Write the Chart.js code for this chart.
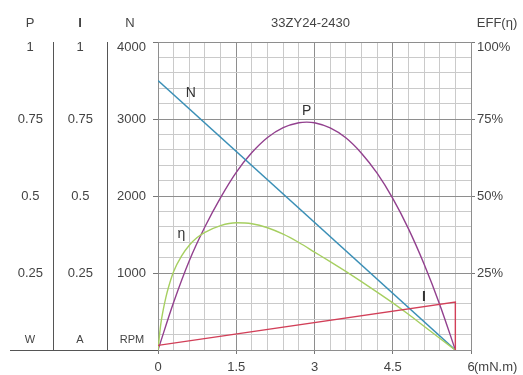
<!DOCTYPE html>
<html><head><meta charset="utf-8">
<script src="https://cdn.jsdelivr.net/npm/chart.js@4"></script>
<style>html,body{margin:0;padding:0;background:#fff;}canvas{display:block}</style>
</head><body>
<canvas id="c" width="523" height="375"></canvas>
<script>
// ---- data ----
const torqueLabels = [0, 1.5, 3, 4.5, 6];          // x tick labels (mN.m)
const pTickLabels = [0.25, 0.5, 0.75, 1];           // W
const iTickLabels = [0.25, 0.5, 0.75, 1];           // A
const nTickLabels = [1000, 2000, 3000, 4000];       // RPM
const effTickLabels = [25, 50, 75, 100];            // %

const speedX = [0, 5.7];
const speedN = [3500, 0];

const currentX = [0, 5.7, 5.7];
const currentI = [0.015, 0.156, 0];

const powerX = [0, 0.3, 0.6, 0.9, 1.2, 1.5, 1.8, 2.1, 2.4, 2.7, 2.85, 3.0, 3.3, 3.6, 3.9, 4.2, 4.5, 4.8, 5.1, 5.4, 5.7];
const powerP = [0, 0.155, 0.29, 0.40, 0.495, 0.577, 0.641, 0.69, 0.722, 0.738, 0.74, 0.738, 0.721, 0.689, 0.639, 0.574, 0.492, 0.394, 0.279, 0.148, 0];

const effX = [0, 0.05, 0.1, 0.15, 0.2, 0.3, 0.45, 0.6, 0.75, 0.9, 1.2, 1.5, 1.8, 2.1, 2.4, 2.7, 3.0, 3.3, 3.6, 3.9, 4.2, 4.5, 4.8, 5.1, 5.4, 5.7];
const effE = [0, 8, 13, 17, 20.3, 25.5, 30.5, 34, 36.5, 38.2, 40.4, 41.3, 41, 39.7, 37.6, 34.9, 31.8, 28.7, 25.5, 22.2, 18.8, 15.3, 11.6, 7.7, 3.8, 0];

// ---- styling ----
const FONT = '"Liberation Sans", Arial, sans-serif';
const TXT = '#444';
const gridMinor = '#cacaca';
const gridMajor = '#8e8e8e';
const colN = '#3a8fb6', colP = '#92408e', colE = '#a6cf60', colI = '#d23f58';

Chart.defaults.font.family = FONT;
Chart.defaults.font.size = 13;
Chart.defaults.color = TXT;

const pts = (xs, ys) => xs.map((x, i) => ({x, y: ys[i]}));
const near = (v, arr) => arr.some(a => Math.abs(a - v) < 1e-6);
const isMajorX = v => near(v, torqueLabels);
const isMajorN = v => near(v, [0].concat(nTickLabels));
const lastOf = arr => arr[arr.length - 1];

// curve name labels (anchors in data units)
const curveNames = [
  {text: 'N', axis: 'yN', x: 0.63, y: 3340, bold: false},
  {text: 'P', axis: 'yP', x: 2.85, y: 0.775, bold: false},
  {text: 'η', axis: 'yE', x: 0.45, y: 37.5, bold: false},
  {text: 'I', axis: 'yI', x: 5.1, y: 0.17, bold: true}
];

const decor = {
  id: 'decor',
  afterDraw(chart) {
    const {ctx, chartArea: ca, scales: s} = chart;
    ctx.save();
    ctx.fillStyle = TXT;
    ctx.textAlign = 'center';
    ctx.textBaseline = 'middle';
    const cP = s.yP.right - 23, cI = s.yI.right - 27, cN = s.yN.right - 28;
    const hy = 23;
    ctx.font = '13px ' + FONT;
    ctx.fillText('P', cP, hy);
    ctx.fillText('N', cN, hy);
    ctx.font = 'bold 13px ' + FONT;
    ctx.fillText('I', cI, hy);
    ctx.font = '13px ' + FONT;
    ctx.fillText('33ZY24-2430', (ca.left + ca.right) / 2 - 4, hy);
    ctx.fillText('EFF(η)', (s.yE.left + s.yE.right) / 2, hy);
    // top-row tick labels sit just below the top border
    const ty = ca.top + 5;
    ctx.fillText(String(lastOf(pTickLabels)), cP, ty);
    ctx.fillText(String(lastOf(iTickLabels)), cI, ty);
    ctx.textAlign = 'right';
    ctx.fillText(String(lastOf(nTickLabels)), s.yN.right - 12, ty);
    ctx.textAlign = 'left';
    ctx.fillText(lastOf(effTickLabels) + '%', s.yE.left + 6, ty);
    // units
    ctx.textAlign = 'center';
    ctx.font = '11px ' + FONT;
    const uy = ca.bottom - 10;
    ctx.fillText('W', cP, uy);
    ctx.fillText('A', cI, uy);
    ctx.fillText('RPM', cN + 2, uy);
    // x unit
    ctx.font = '13px ' + FONT;
    ctx.textAlign = 'left';
    ctx.fillText('(mN.m)', s.x.getPixelForValue(6) + 3, ca.bottom + 17);
    // bottom line of the left panel
    ctx.strokeStyle = '#555';
    ctx.lineWidth = 1;
    ctx.beginPath();
    ctx.moveTo(10, Math.round(ca.bottom) + 0.5);
    ctx.lineTo(ca.left, Math.round(ca.bottom) + 0.5);
    ctx.stroke();
    // curve names
    ctx.textAlign = 'center';
    ctx.fillStyle = '#333';
    curveNames.forEach(c => {
      ctx.font = (c.bold ? 'bold ' : '') + '14px ' + FONT;
      ctx.fillText(c.text, s.x.getPixelForValue(c.x), s[c.axis].getPixelForValue(c.y));
    });
    ctx.restore();
  }
};

new Chart(document.getElementById('c'), {
  type: 'line',
  data: {
    datasets: [
      {label: 'I', data: pts(currentX, currentI), yAxisID: 'yI', borderColor: colI, borderWidth: 1.4, pointRadius: 0, tension: 0},
      {label: 'η', data: pts(effX, effE), yAxisID: 'yE', borderColor: colE, borderWidth: 1.4, pointRadius: 0, cubicInterpolationMode: 'monotone'},
      {label: 'N', data: pts(speedX, speedN), yAxisID: 'yN', borderColor: colN, borderWidth: 1.5, pointRadius: 0, tension: 0},
      {label: 'P', data: pts(powerX, powerP), yAxisID: 'yP', borderColor: colP, borderWidth: 1.4, pointRadius: 0, cubicInterpolationMode: 'monotone'}
    ]
  },
  options: {
    responsive: false,
    animation: false,
    devicePixelRatio: 1,
    layout: {padding: {top: 42, left: 0, right: 0, bottom: 0}},
    plugins: {legend: {display: false}, tooltip: {enabled: false}, title: {display: false}},
    scales: {
      x: {
        type: 'linear', position: 'bottom', min: 0, max: 6,
        afterFit(sc) { sc.height = 25; },
        ticks: {
          stepSize: 0.3, autoSkip: false, maxRotation: 0, maxTicksLimit: 100, padding: 6,
          callback: v => isMajorX(v) ? String(torqueLabels.find(a => Math.abs(a - v) < 1e-6)) : ''
        },
        grid: {
          color: c => isMajorX(c.tick.value) ? gridMajor : gridMinor,
          tickLength: 4,
          tickColor: c => isMajorX(c.tick.value) ? '#777' : 'rgba(0,0,0,0)'
        },
        border: {color: gridMajor}
      },
      yN: {
        type: 'linear', position: 'left', weight: 0, min: 0, max: 4000,
        afterFit(sc) { sc.width = 51; },
        ticks: {
          stepSize: 200, autoSkip: false, maxTicksLimit: 100, padding: 7, crossAlign: 'near',
          callback: v => near(v, nTickLabels) && v !== lastOf(nTickLabels) ? String(v) : ''
        },
        grid: {
          color: c => isMajorN(c.tick.value) || c.tick.value === 4000 ? gridMajor : gridMinor,
          tickLength: 5,
          tickColor: c => near(c.tick.value, nTickLabels) ? '#777' : 'rgba(0,0,0,0)'
        },
        border: {color: gridMajor}
      },
      yI: {
        type: 'linear', position: 'left', weight: 1, min: 0, max: 1,
        afterFit(sc) { sc.width = 54; },
        ticks: {
          stepSize: 0.25, autoSkip: false, padding: 14, crossAlign: 'center',
          callback: v => near(v, iTickLabels) && v !== lastOf(iTickLabels) ? String(v) : ''
        },
        grid: {display: false, drawTicks: false, drawOnChartArea: false},
        border: {color: '#555'}
      },
      yP: {
        type: 'linear', position: 'left', weight: 2, min: 0, max: 1,
        afterFit(sc) { sc.width = 53; },
        ticks: {
          stepSize: 0.25, autoSkip: false, padding: 10, crossAlign: 'center',
          callback: v => near(v, pTickLabels) && v !== lastOf(pTickLabels) ? String(v) : ''
        },
        grid: {display: false, drawTicks: false, drawOnChartArea: false},
        border: {color: '#555'}
      },
      yE: {
        type: 'linear', position: 'right', min: 0, max: 100,
        afterFit(sc) { sc.width = 52; },
        ticks: {
          stepSize: 25, autoSkip: false, padding: 2,
          callback: v => near(v, effTickLabels) && v !== lastOf(effTickLabels) ? v + '%' : ''
        },
        grid: {drawOnChartArea: false, tickLength: 4, tickColor: c => near(c.tick.value, effTickLabels) ? '#777' : 'rgba(0,0,0,0)'},
        border: {color: gridMajor}
      }
    }
  },
  plugins: [decor]
});
</script>
</body></html>
